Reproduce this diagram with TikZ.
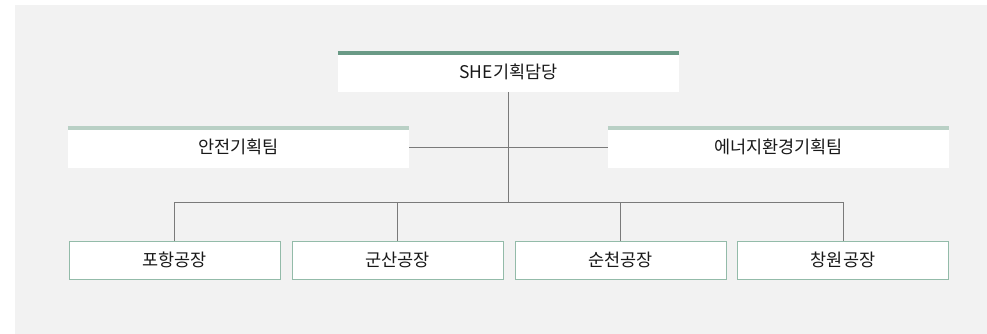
\documentclass[tikz,border=0pt]{standalone}
\usepackage{fontspec}
\setmainfont{Noto Sans CJK KR}
\usetikzlibrary{positioning, calc}

\definecolor{bgGray}{HTML}{F2F2F2}
\definecolor{darkBar}{HTML}{6A9A86}
\definecolor{lightBar}{HTML}{B9D0C5}
\definecolor{boxLine}{HTML}{93BBA9}
\definecolor{linkGray}{HTML}{7A7A7A}

\begin{document}
\begin{tikzpicture}[x=1pt, y=-1pt,
    every node/.style={align=center, inner sep=0pt, font=\fontsize{17.5}{20}\selectfont, text=black!90},
    head/.style={fill=white, minimum width=341pt, minimum height=41pt},
    team/.style={fill=white, minimum width=341pt, minimum height=42pt},
    plant/.style={fill=white, draw=boxLine, line width=1pt, minimum width=211pt, minimum height=38pt},
    link/.style={draw=linkGray, line width=1pt}]

    % Background
    \useasboundingbox (0,0) rectangle (987,334);
    \fill[white] (0,0) rectangle (987,334);
    \fill[bgGray] (15,5) rectangle (987,334);

    % Nodes
    \node (she) [head] at (508.5,71.5) {SHE기획담당};
    \node (safety) [team] at (238.5,147) {안전기획팀};
    \node (energy) [team] at (778.5,147) {에너지환경기획팀};
    \node (pohang) [plant] at (174.5,260) {포항공장};
    \node (gunsan) [plant] at (397.5,260) {군산공장};
    \node (suncheon) [plant] at (620.5,260) {순천공장};
    \node (changwon) [plant] at (843,260) {창원공장};

    % Bars
    \draw[darkBar, line width=4pt] ([yshift=-2pt]she.north west) -- ([yshift=-2pt]she.north east);
    \draw[lightBar, line width=4pt] ([yshift=-2pt]safety.north west) -- ([yshift=-2pt]safety.north east);
    \draw[lightBar, line width=4pt] ([yshift=-2pt]energy.north west) -- ([yshift=-2pt]energy.north east);

    % Lines
    \coordinate (bus) at (she.south |- 0,202);
    \draw[link] (she.south) -- (bus);
    \draw[link] (safety.east) -- (energy.west);
    \draw[link] (pohang.north) |- (bus);
    \draw[link] (changwon.north) |- (bus);
    \draw[link] (gunsan.north) -- (gunsan.north |- bus);
    \draw[link] (suncheon.north) -- (suncheon.north |- bus);
\end{tikzpicture}
\end{document}
